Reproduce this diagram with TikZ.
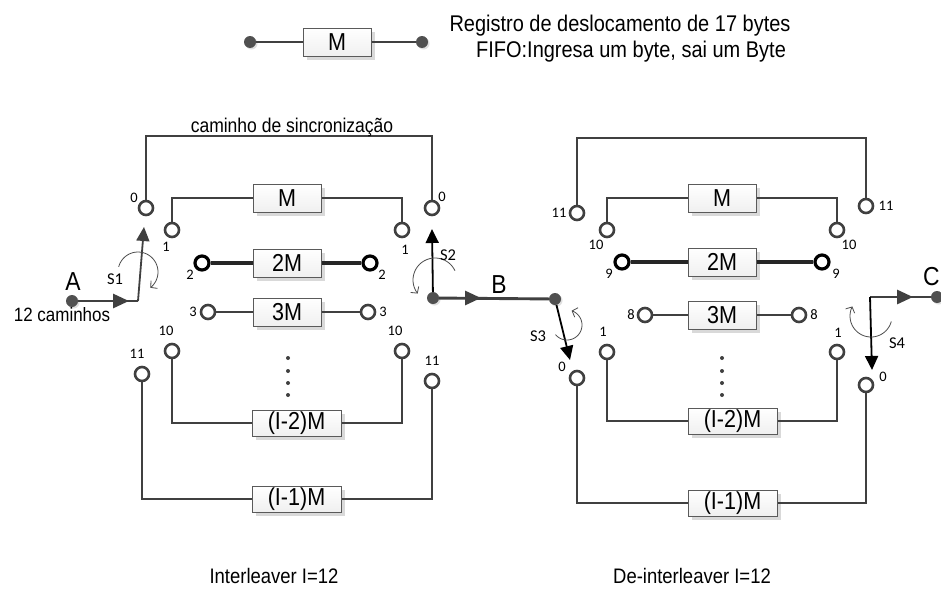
\documentclass[tikz,border=0pt]{standalone}
\usepackage{fontspec}
\setmainfont{Liberation Sans}[FakeStretch=0.88]
\newfontfamily\calib{Carlito}
\usetikzlibrary{arrows.meta,shadows,calc}
\definecolor{lc}{HTML}{404040}
\definecolor{dotc}{HTML}{505050}
\definecolor{boxb}{HTML}{5A5A5A}
\begin{document}
\begin{tikzpicture}[x=1pt,y=-1pt,
  wire/.style={draw=lc,line width=2.9pt},
  wireb/.style={draw=black!85,line width=3.1pt},
  port/.style={circle,draw=lc,line width=2.6pt,fill=white,minimum size=14pt,inner sep=0pt},
  portb/.style={port,draw=black,line width=3.2pt},
  reg/.style={rectangle,draw=boxb,line width=1pt,top color=white,bottom color=gray!12,
    minimum width=68pt,minimum height=28pt,inner sep=0pt,font=\fontsize{24.5}{24.5}\selectfont,
    general shadow={fill=gray!30,shadow xshift=4pt,shadow yshift=-4pt}},
  regw/.style={reg,minimum width=89pt,minimum height=26pt},
  dot/.style={circle,fill=dotc,minimum size=12pt,inner sep=0pt,
    general shadow={fill=gray!25,shadow xshift=1.5pt,shadow yshift=-1.5pt}},
  num/.style={font=\calib\fontsize{14.5}{14.5}\selectfont,inner sep=0pt},
  slab/.style={font=\calib\fontsize{16.5}{16.5}\selectfont,inner sep=0pt},
  big/.style={font=\fontsize{26}{26}\selectfont,inner sep=0pt},
  txt/.style={font=\fontsize{22.7}{22.7}\selectfont,inner sep=0pt,anchor=base},
  bigarrow/.style={draw=lc,line width=2.9pt,-{Triangle[length=16pt,width=14pt]}},
  armg/.style={draw=lc,line width=1.8pt,-{Triangle[length=14pt,width=13pt]}},
  armk/.style={draw=black,line width=1.8pt,-{Triangle[length=14pt,width=13pt]}},
  rot/.style={draw=gray!60!black,line width=0.8pt,-{Straight Barb[length=4.5pt,width=10pt]}}
]
\fill[white] (0,0) rectangle (941,605);
\useasboundingbox (0,0) rectangle (941,605);

% ---------------- legend ----------------
\node[reg] (lgM) at (337,42) {M};
\node[dot] (lgA) at (250,42) {};
\node[dot] (lgB) at (422,42) {};
\draw[wire] (lgA) -- (lgM);
\draw[wire] (lgM) -- (lgB);
\node[txt] (t1) at (620,31) {Registro de deslocamento de 17 bytes};
\node[txt] (t2) at (631,57) {FIFO:Ingresa um byte, sai um Byte};

% ---------------- interleaver ----------------
\coordinate (s0a) at (146,136);
\coordinate (s0b) at (432,136);
\node[port] (L0) at (146,208) {};
\node[port] (R0) at (432,208) {};
\draw[wire] (L0.north) -- (s0a) -- (s0b) -- (R0.north);
\node[font=\fontsize{19.9}{19.9}\selectfont,inner sep=0pt,anchor=base] (sync) at (292,132) {caminho de sincronização};

\node[reg] (M1) at (287,198) {M};
\node[port] (L1) at (172,230) {};
\node[port] (R1) at (402,230) {};
\draw[wire] (L1.north) |- (M1.west);
\draw[wire] (M1.east) -| (R1.north);

\node[reg] (M2) at (287,263) {2M};
\node[portb] (L2) at (202,263) {};
\node[portb] (R2) at (370,263) {};
\draw[wireb] (L2) -- (M2);
\draw[wireb] (M2) -- (R2);

\node[reg] (M3) at (287,312) {3M};
\node[port] (L3) at (208,312) {};
\node[port] (R3) at (368,312) {};
\draw[wire] (L3) -- (M3);
\draw[wire] (M3) -- (R3);

\node[regw] (M10) at (296.5,423) {(I-2)M};
\node[port] (L10) at (172,351) {};
\node[port] (R10) at (402,351) {};
\draw[wire] (L10.south) |- (M10.west);
\draw[wire] (M10.east) -| (R10.south);

\node[regw] (M11) at (296.5,499) {(I-1)M};
\node[port] (L11) at (142,374) {};
\node[port] (R11) at (432,381) {};
\draw[wire] (L11.south) |- (M11.west);
\draw[wire] (M11.east) -| (R11.south);

\foreach \y in {358,371,383,395} \fill[lc] (288,\y) circle (2pt);

\node[num] (nl0) at (134,198) {0};
\node[num] (nr0) at (442,197) {0};
\node[num] (nl1) at (166,247) {1};
\node[num] (nr1) at (405,250) {1};
\node[num] (nl2) at (190,275) {2};
\node[num] (nr2) at (382,275) {2};
\node[num] (nl3) at (193,312) {3};
\node[num] (nr3) at (383,312) {3};
\node[num] (nl10) at (166,331) {10};
\node[num] (nr10) at (395,331) {10};
\node[num] (nl11) at (137,354) {11};
\node[num] (nr11) at (432,361) {11};

% input A and switch S1
\node[dot] (A) at (72,301) {};
\node[big] (Alab) at (73,282) {A};
\node[font=\fontsize{19.3}{19.3}\selectfont,inner sep=0pt,anchor=base] (Acam) at (62,321) {12 caminhos};
\coordinate (p1) at (138,301);
\coordinate (a1tip) at (129,301);
\coordinate (s1tip) at (144,227);
\draw[wire] (A) -- (p1);
\draw[bigarrow] (A) -- (a1tip);
\draw[armg] (p1) -- (s1tip);
\draw[rot] plot[smooth,domain=195:412,samples=40] ({138+20*cos(\x)},{272+20*sin(\x)});
\node[slab] (S1) at (115,279) {S1};

% switch S2, B
\node[dot] (p2) at (433,298) {};
\node[dot] (p3) at (555,299) {};
\coordinate (s2tip) at (432,229);
\coordinate (btip) at (481,298);
\draw[wire] (p2) -- (p3);
\draw[bigarrow] (p2) -- (btip);
\draw[armk] (p2) -- (s2tip);
\draw[rot] plot[smooth,domain=-25:-218,samples=40] ({435+22*cos(\x)},{280+22*sin(\x)});
\node[slab] (S2) at (448,255) {S2};
\node[big] (Blab) at (499,285) {B};

% ---------------- de-interleaver ----------------
\coordinate (d0a) at (577,138);
\coordinate (d0b) at (866,138);
\node[port] (DL11) at (577,213) {};
\node[port] (DR11) at (866,206) {};
\draw[wire] (DL11.north) -- (d0a) -- (d0b) -- (DR11.north);

\node[reg] (DM1) at (722,198) {M};
\node[port] (DL10) at (607,230) {};
\node[port] (DR10) at (837,230) {};
\draw[wire] (DL10.north) |- (DM1.west);
\draw[wire] (DM1.east) -| (DR10.north);

\node[reg] (DM2) at (722,262) {2M};
\node[portb] (DL9) at (622,262) {};
\node[portb] (DR9) at (822,262) {};
\draw[wireb] (DL9) -- (DM2);
\draw[wireb] (DM2) -- (DR9);

\node[reg] (DM3) at (722,315) {3M};
\node[port] (DL8) at (645,315) {};
\node[port] (DR8) at (799,315) {};
\draw[wire] (DL8) -- (DM3);
\draw[wire] (DM3) -- (DR8);

\node[regw] (DM10) at (732.5,421) {(I-2)M};
\node[port] (DL1) at (607,352) {};
\node[port] (DR1) at (837,352) {};
\draw[wire] (DL1.south) |- (DM10.west);
\draw[wire] (DM10.east) -| (DR1.south);

\node[regw] (DM11) at (732.5,503) {(I-1)M};
\node[port] (DL0) at (577,378) {};
\node[port] (DR0) at (866,385) {};
\draw[wire] (DL0.south) |- (DM11.west);
\draw[wire] (DM11.east) -| (DR0.south);

\foreach \y in {358,371,383,395} \fill[lc] (722,\y) circle (2pt);

\node[num] (dl11) at (559,213) {11};
\node[num] (dr11) at (886,206) {11};
\node[num] (dl10) at (596,245) {10};
\node[num] (dr10) at (849,245) {10};
\node[num] (dl9) at (609,274) {9};
\node[num] (dr9) at (836,274) {9};
\node[num] (dl8) at (631,315) {8};
\node[num] (dr8) at (814,315) {8};
\node[num] (dl1) at (603,332) {1};
\node[num] (dr1) at (838,333) {1};
\node[num] (dl0) at (562,367) {0};
\node[num] (dr0) at (883,377) {0};

% switch S3
\coordinate (s3tip) at (570,360);
\draw[armk] (p3) -- (s3tip);
\draw[rot] plot[smooth,domain=140:-72,samples=40] ({567+15*cos(\x)},{325+15*sin(\x)});
\node[slab] (S3) at (538,336) {S3};

% switch S4, C
\coordinate (p4) at (870,297);
\node[dot] (Cdot) at (937,297) {};
\coordinate (ctip) at (913,297);
\coordinate (s4tip) at (872,370);
\draw[wire] (p4) -- (Cdot);
\draw[bigarrow] (p4) -- (ctip);
\draw[armk] (p4) -- (s4tip);
\draw[rot] plot[smooth,domain=15:207,samples=40] ({871+21*cos(\x)},{316+21*sin(\x)});
\node[slab] (S4) at (897,343) {S4};
\node[big,anchor=base west] (Clab) at (923,285) {C};

% ---------------- captions ----------------
\node[font=\fontsize{21}{21}\selectfont,inner sep=0pt,anchor=base] (cap1) at (274,583) {Interleaver I=12};
\node[font=\fontsize{21}{21}\selectfont,inner sep=0pt,anchor=base] (cap2) at (692,583) {De-interleaver I=12};
\end{tikzpicture}
\end{document}
